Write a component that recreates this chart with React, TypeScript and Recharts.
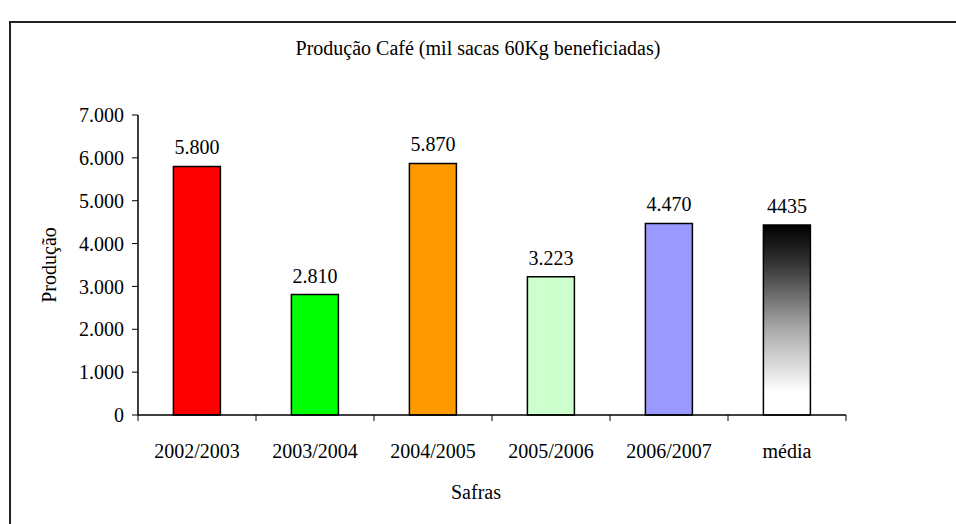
import { Bar, BarChart, Cell, LabelList, XAxis, YAxis } from "recharts";

const safras = ["2002/2003", "2003/2004", "2004/2005", "2005/2006", "2006/2007", "média"];
const producao = [5800, 2810, 5870, 3223, 4470, 4435];
const valueLabels = ["5.800", "2.810", "5.870", "3.223", "4.470", "4435"];
const yTicks = [0, 1000, 2000, 3000, 4000, 5000, 6000, 7000];

const barFills = ["#ff0000", "#00ff00", "#ff9900", "#ccffcc", "#9999ff", "url(#mediaGrad)"];

const data = safras.map((safra, i) => ({ safra, producao: producao[i], label: valueLabels[i] }));

const FONT = "'Liberation Serif', 'Times New Roman', serif";
const W = 956;
const H = 524;
const PLOT_LEFT = 138;
const PLOT_RIGHT = 846;
const PLOT_TOP = 115;
const PLOT_BOTTOM = 415;
const HALF_BAND = (PLOT_RIGHT - PLOT_LEFT) / safras.length / 2;

const fmt = (v: number) => String(v).replace(/\B(?=(\d{3})+(?!\d))/g, ".");

function CategoryTick(props: any) {
  const { x, y, payload, index } = props;
  return (
    <g>
      {index === 0 && <line x1={x - HALF_BAND} x2={x - HALF_BAND} y1={y} y2={y + 6} stroke="#000" />}
      <line x1={x + HALF_BAND} x2={x + HALF_BAND} y1={y} y2={y + 6} stroke="#000" />
      <text x={x} y={y + 43} textAnchor="middle" fontFamily={FONT} fontSize={20} fill="#000">
        {payload.value}
      </text>
    </g>
  );
}

export default function App() {
  return (
    <div style={{ position: "absolute", left: 0, top: 0, width: W, height: H, background: "#fff", overflow: "hidden" }}>
      <div
        style={{
          position: "absolute",
          left: 9,
          top: 21,
          width: W,
          height: H,
          borderTop: "2px solid #222",
          borderLeft: "2px solid #222",
        }}
      />
      <div
        style={{
          position: "absolute",
          left: 0,
          top: 37,
          width: W,
          textAlign: "center",
          fontFamily: FONT,
          fontSize: 20,
          color: "#000",
        }}
      >
        Produção Café (mil sacas 60Kg beneficiadas)
      </div>
      <div style={{ position: "absolute", left: 0, top: 0 }}>
        <BarChart
          width={W}
          height={H}
          data={data}
          margin={{ top: PLOT_TOP, right: W - PLOT_RIGHT, bottom: 0, left: 0 }}
          barCategoryGap="30%"
        >
          <defs>
            <linearGradient id="mediaGrad" x1="0" y1="0" x2="0" y2="1">
              <stop offset="0%" stopColor="#000" />
              <stop offset="20%" stopColor="#333" />
              <stop offset="55%" stopColor="#aaa" />
              <stop offset="88%" stopColor="#fff" />
              <stop offset="100%" stopColor="#fff" />
            </linearGradient>
          </defs>
          <XAxis
            dataKey="safra"
            interval={0}
            axisLine={{ stroke: "#000", strokeWidth: 1.5 }}
            tickLine={false}
            tickSize={0}
            tickMargin={0}
            tick={<CategoryTick />}
            height={H - PLOT_BOTTOM}
            label={{
              content: () => (
                <text x={476} y={499} textAnchor="middle" fontFamily={FONT} fontSize={20} fill="#000">
                  Safras
                </text>
              ),
            }}
          />
          <YAxis
            width={PLOT_LEFT}
            domain={[0, 7000]}
            ticks={yTicks}
            interval={0}
            tickFormatter={fmt}
            axisLine={{ stroke: "#000", strokeWidth: 1.5 }}
            tickLine={{ stroke: "#000" }}
            tickSize={6}
            tickMargin={8}
            tick={{ fontFamily: FONT, fontSize: 20, fill: "#000" }}
            label={{
              content: () => (
                <text
                  x={56}
                  y={265}
                  textAnchor="middle"
                  fontFamily={FONT}
                  fontSize={20}
                  fill="#000"
                  transform="rotate(-90, 56, 265)"
                >
                  Produção
                </text>
              ),
            }}
          />
          <Bar dataKey="producao" stroke="#000" strokeWidth={1.5} isAnimationActive={false}>
            {data.map((d, i) => (
              <Cell key={d.safra} fill={barFills[i]} />
            ))}
            <LabelList
              dataKey="label"
              position="top"
              offset={12}
              style={{ fontFamily: FONT, fontSize: 20, fill: "#000" }}
            />
          </Bar>
        </BarChart>
      </div>
    </div>
  );
}
